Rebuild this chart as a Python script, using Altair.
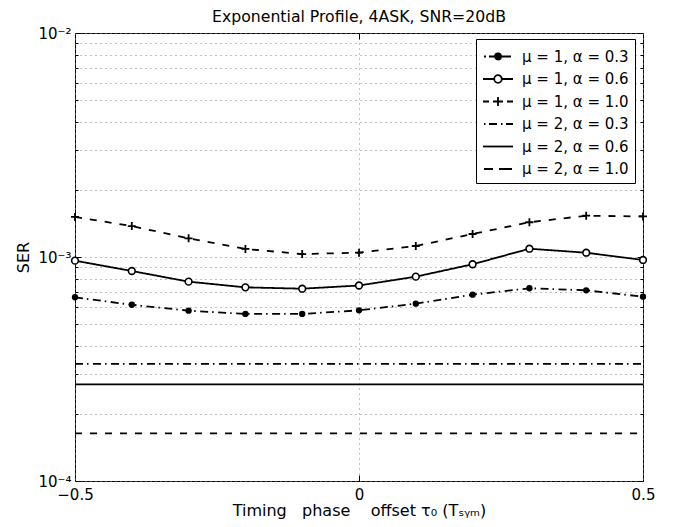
import altair as alt
import pandas as pd

# ---------------- data ----------------
x_offsets = [-0.5, -0.4, -0.3, -0.2, -0.1, 0.0, 0.1, 0.2, 0.3, 0.4, 0.5]

ser_mu1_a03 = [6.61e-4, 6.12e-4, 5.76e-4, 5.57e-4, 5.57e-4, 5.78e-4, 6.19e-4, 6.79e-4, 7.25e-4, 7.10e-4, 6.65e-4]
ser_mu1_a06 = [9.63e-4, 8.66e-4, 7.76e-4, 7.32e-4, 7.22e-4, 7.46e-4, 8.17e-4, 9.28e-4, 1.089e-3, 1.045e-3, 9.70e-4]
ser_mu1_a10 = [1.510e-3, 1.374e-3, 1.212e-3, 1.086e-3, 1.031e-3, 1.045e-3, 1.120e-3, 1.267e-3, 1.429e-3, 1.529e-3, 1.517e-3]
ser_mu2_a03 = [3.33e-4, 3.33e-4, 3.33e-4, 3.33e-4, 3.33e-4, 3.33e-4, 3.33e-4, 3.33e-4, 3.33e-4, 3.33e-4, 3.33e-4]
ser_mu2_a06 = [2.70e-4, 2.70e-4, 2.70e-4, 2.70e-4, 2.70e-4, 2.70e-4, 2.70e-4, 2.70e-4, 2.70e-4, 2.70e-4, 2.70e-4]
ser_mu2_a10 = [1.633e-4, 1.633e-4, 1.633e-4, 1.633e-4, 1.633e-4, 1.633e-4, 1.633e-4, 1.633e-4, 1.633e-4, 1.633e-4, 1.633e-4]

series_labels = ["μ = 1, α = 0.3", "μ = 1, α = 0.6", "μ = 1, α = 1.0",
                 "μ = 2, α = 0.3", "μ = 2, α = 0.6", "μ = 2, α = 1.0"]
series_ids = ["m1a03", "m1a06", "m1a10", "m2a03", "m2a06", "m2a10"]
series_values = [ser_mu1_a03, ser_mu1_a06, ser_mu1_a10, ser_mu2_a03, ser_mu2_a06, ser_mu2_a10]

x_ticks = [-0.5, 0.0, 0.5]
decade_ticks = [1e-4, 1e-3, 1e-2]
minor_ticks = [2e-4, 3e-4, 4e-4, 5e-4, 6e-4, 7e-4, 8e-4, 9e-4,
               2e-3, 3e-3, 4e-3, 5e-3, 6e-3, 7e-3, 8e-3, 9e-3]

title_text = "Exponential Profile, 4ASK, SNR=20dB"
x_title = "Timing\u00a0\u00a0 phase\u00a0\u00a0\u00a0 offset τ₀ (Tₛᵧₘ)"
y_title = "SER"

# ---------------- styles ----------------
FONT = "DejaVu Sans"
dash_patterns = [[8, 4, 1.5, 4.5], [1, 0], [7, 8], [8, 4, 1.5, 4.5], [1, 0], [7, 8]]

SYM = 21.0            # legend symbol box (px); path units are SYM/2 px
HALF = SYM / 2.0


def u(px):
    return round((px - HALF) / HALF, 4)


def segs(pairs):
    return "".join(f"M{u(a)},0H{u(b)}" for a, b in pairs)


def ring(cx_px, r_px):
    cx, r = u(cx_px), round(r_px / HALF, 4)
    return f"M{round(cx + r, 4)},0A{r},{r} 0 1,1 {round(cx - r, 4)},0A{r},{r} 0 1,1 {round(cx + r, 4)},0"


def plus(cx_px, arm_px):
    cx, a = u(cx_px), round(arm_px / HALF, 4)
    return f"M{round(cx - a, 4)},0H{round(cx + a, 4)}M{cx},{-a}V{a}"


legend_paths = [
    segs([(1, 3), (6, 12), (18, 28)]) + ring(15, 3.0) + ring(15, 1.95) + ring(15, 0.9),
    segs([(0, 11.2), (18.8, 30)]) + ring(15, 3.8),
    segs([(0, 6), (10, 20), (24, 30)]) + plus(15, 4.5),
    segs([(1, 2.5), (6, 14), (18, 19.5), (23, 30)]),
    segs([(0, 30)]),
    segs([(1, 10), (16, 29)]),
]

rows = []
for lab, sid, vals in zip(series_labels, series_ids, series_values):
    for xv, yv in zip(x_offsets, vals):
        rows.append({"series": lab, "sid": sid, "x": xv, "ser": yv})
df = pd.DataFrame(rows)

legend_df = pd.DataFrame({"series": series_labels,
                          "x": [0.0] * len(series_labels),
                          "ser": [1e-6] * len(series_labels)})

xs = alt.Scale(domain=[-0.5, 0.5], nice=False, zero=False)
ys = alt.Scale(type="log", domain=[1e-4, 1e-2], nice=False)


def tick_axis(orient, values, size, offset):
    return alt.Axis(orient=orient, values=values, tickSize=size, offset=offset,
                    labels=False, grid=False, domain=False, title=None,
                    ticks=True, tickColor="black", tickWidth=1)


y_label_expr = ("abs(datum.value-0.0001)<1e-9 ? '10⁻⁴' : "
                "abs(datum.value-0.001)<1e-9 ? '10⁻³' : "
                "abs(datum.value-0.01)<1e-9 ? '10⁻²' : ''")
x_label_expr = "datum.value == 0 ? '0' : replace(format(datum.value, '.1f'), '-', '\u2212')"

main_x_axis = alt.Axis(orient="bottom", values=x_ticks, labelExpr=x_label_expr,
                       grid=True, ticks=False, domain=False, title=x_title,
                       labelFontSize=15, titleFontSize=16, labelPadding=6,
                       labelFlush=False, titleBaseline="alphabetic", titleY=34)
main_y_axis = alt.Axis(orient="left", values=decade_ticks + minor_ticks,
                       labelExpr=y_label_expr, grid=True, ticks=False,
                       domain=False, title=y_title, labelFontSize=15,
                       titleFontSize=16, labelPadding=4, titlePadding=6,
                       labelFlush=False)

lines = alt.Chart(df).mark_line(strokeWidth=1.8, color="black", clip=True).encode(
    x=alt.X("x:Q", scale=xs, axis=main_x_axis),
    y=alt.Y("ser:Q", scale=ys, axis=main_y_axis),
    strokeDash=alt.StrokeDash("sid:N",
                              scale=alt.Scale(domain=series_ids, range=dash_patterns),
                              legend=None),
)

pts1 = alt.Chart(df).transform_filter(alt.datum.sid == series_ids[0]).mark_point(
    shape="circle", filled=True, size=40, color="black", opacity=1
).encode(
    x=alt.X("x:Q", scale=xs, axis=tick_axis("bottom", [0.0], 6, -6)),
    y=alt.Y("ser:Q", scale=ys, axis=tick_axis("left", decade_ticks, 6, -6)),
)

pts2 = alt.Chart(df).transform_filter(alt.datum.sid == series_ids[1]).mark_point(
    shape="circle", filled=True, fill="white", stroke="black", strokeWidth=1.6,
    size=45, opacity=1
).encode(
    x=alt.X("x:Q", scale=xs, axis=tick_axis("top", [0.0], 6, -6)),
    y=alt.Y("ser:Q", scale=ys, axis=tick_axis("left", minor_ticks, 3, -3)),
)

pts3 = alt.Chart(df).transform_filter(alt.datum.sid == series_ids[2]).mark_point(
    shape="M-1,0H1M0,-1V1", filled=False, stroke="black", strokeWidth=1.8,
    size=64, opacity=1
).encode(
    x=alt.X("x:Q", scale=xs, axis=None),
    y=alt.Y("ser:Q", scale=ys, axis=tick_axis("right", decade_ticks, 6, -6)),
)

leg = alt.Legend(orient="none", legendX=401, legendY=6, title=None,
                 fillColor="white", strokeColor="black", padding=6,
                 symbolSize=SYM * SYM, symbolStrokeWidth=1.8, symbolStrokeColor="black",
                 labelFontSize=15, labelFont=FONT, labelColor="black",
                 labelOffset=17, rowPadding=2.5, cornerRadius=0)

legend_layer = alt.Chart(legend_df).mark_point(
    filled=False, stroke="black", strokeWidth=1.8, opacity=1, clip=True
).encode(
    x=alt.X("x:Q", scale=xs, axis=None),
    y=alt.Y("ser:Q", scale=ys, axis=tick_axis("right", minor_ticks, 3, -3)),
    shape=alt.Shape("series:N", scale=alt.Scale(domain=series_labels, range=legend_paths),
                    legend=leg),
)

chart = alt.layer(lines, pts1, pts2, pts3, legend_layer).resolve_axis(
    x="independent", y="independent"
).properties(
    width=568, height=448,
    title=alt.TitleParams(title_text, fontSize=15.7, fontWeight="normal", font=FONT,
                          color="black", offset=0, anchor="middle", frame="group"),
    padding={"left": 67, "top": 25, "right": 32, "bottom": 38},
    autosize="none",
    background="white",
).configure_view(
    stroke="black", strokeWidth=1
).configure_axis(
    labelFont=FONT, titleFont=FONT, labelColor="black", titleColor="black",
    titleFontWeight="normal", gridColor="#808080", gridDash=[1, 4], gridWidth=1,
    gridOpacity=1
)

chart.save("out.html", embed_options={"renderer": "svg", "actions": False})
